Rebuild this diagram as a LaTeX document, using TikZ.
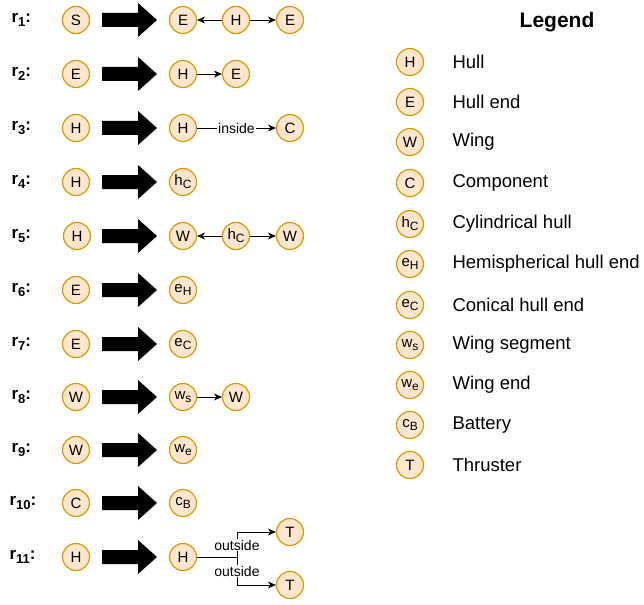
\documentclass[tikz,border=0pt]{standalone}
\usepackage{fontspec}
\setmainfont{Liberation Sans}
\usetikzlibrary{arrows.meta}
\definecolor{cfill}{HTML}{FFE6CC}
\definecolor{cdraw}{HTML}{D79B00}
\newcommand{\mysub}[1]{\raisebox{-0.35ex}{\fontsize{12}{12}\selectfont #1}}
\newcommand{\rsub}[1]{\raisebox{-0.45ex}{\fontsize{13}{13}\selectfont #1}}
\begin{document}
\begin{tikzpicture}[x=1pt,y=-1pt,
  sym/.style={circle, draw=cdraw, fill=cfill, line width=1.2pt, minimum size=27pt, inner sep=0pt, font=\fontsize{15}{15}\selectfont},
  rlbl/.style={font=\fontsize{17}{17}\selectfont\bfseries, anchor=west},
  leg/.style={font=\fontsize{18.5}{18.5}\selectfont, anchor=west},
  legtitle/.style={font=\fontsize{21}{21}\selectfont\bfseries},
  elbl/.style={font=\fontsize{14}{14}\selectfont, fill=white, inner sep=1pt},
  edge/.style={-{Stealth[length=8pt,width=7pt]}, line width=0.8pt}]
\useasboundingbox (0,0) rectangle (644,604);
% rows with big arrows
\foreach \i/\y/\lx in {1/20/8,2/74/8,3/128/8,4/182/8,5/236/8,6/290/8,7/344/8,8/397/8,9/450/8,10/503/6,11/557/6}{
  \node[rlbl] (r\i) at (\lx,\y) {r\rsub{\i}:};
  \fill[black] (102,\y-7) -- (138,\y-7) -- (138,\y-17) -- (157,\y) -- (138,\y+17) -- (138,\y+7) -- (102,\y+7) -- cycle;
}
% r1
\node[sym] (l1) at (76,20) {S};
\node[sym] (e1a) at (183,20) {E};
\node[sym] (h1) at (236,20) {H};
\node[sym] (e1b) at (290,20) {E};
\draw[edge] (h1) -- (e1a);
\draw[edge] (h1) -- (e1b);
% r2
\node[sym] (l2) at (76,74) {E};
\node[sym] (h2) at (183,74) {H};
\node[sym] (e2) at (236,74) {E};
\draw[edge] (h2) -- (e2);
% r3
\node[sym] (l3) at (76,128) {H};
\node[sym] (h3) at (183,128) {H};
\node[sym] (c3) at (290,128) {C};
\draw[edge] (h3) -- node[elbl] {inside} (c3);
% r4
\node[sym] (l4) at (76,182) {H};
\node[sym] (h4) at (183,182) {h\mysub{C}};
% r5
\node[sym] (l5) at (77,236) {H};
\node[sym] (w5a) at (183,236) {W};
\node[sym] (h5) at (236,236) {h\mysub{C}};
\node[sym] (w5b) at (290,236) {W};
\draw[edge] (h5) -- (w5a);
\draw[edge] (h5) -- (w5b);
% r6
\node[sym] (l6) at (76,290) {E};
\node[sym] (e6) at (183,290) {e\mysub{H}};
% r7
\node[sym] (l7) at (76,344) {E};
\node[sym] (e7) at (183,344) {e\mysub{C}};
% r8
\node[sym] (l8) at (76,397) {W};
\node[sym] (w8) at (183,397) {w\mysub{s}};
\node[sym] (w8b) at (236,397) {W};
\draw[edge] (w8) -- (w8b);
% r9
\node[sym] (l9) at (76,450) {W};
\node[sym] (w9) at (183,450) {w\mysub{e}};
% r10
\node[sym] (l10) at (76,503) {C};
\node[sym] (c10) at (183,503) {c\mysub{B}};
% r11
\node[sym] (l11) at (76,557) {H};
\node[sym] (h11) at (183,557) {H};
\node[sym] (t1) at (290,532) {T};
\node[sym] (t2) at (290,585) {T};
\coordinate (j) at (237,557);
\draw[edge] (h11) -- (j) |- (t1);
\draw[edge] (h11) -- (j) |- (t2);
\node[elbl] (o1) at (237,545) {outside};
\node[elbl] (o2) at (237,571) {outside};
% legend
\node[legtitle] (lt) at (557,22) {Legend};
\foreach \y/\s/\t [count=\k] in {62/H/Hull,102/E/Hull end,142/W/Wing,183/C/Component,224/h\mysub{C}/Cylindrical hull,264/e\mysub{H}/Hemispherical hull end,305/e\mysub{C}/Conical hull end,345/w\mysub{s}/Wing segment,385/w\mysub{e}/Wing end,425/c\mysub{B}/Battery,465/T/Thruster}{
  \node[sym] (ls\k) at (410,\y) {\s};
  \node[leg] (lx\k) at (449,\y) {\t};
}
\end{tikzpicture}
\end{document}
